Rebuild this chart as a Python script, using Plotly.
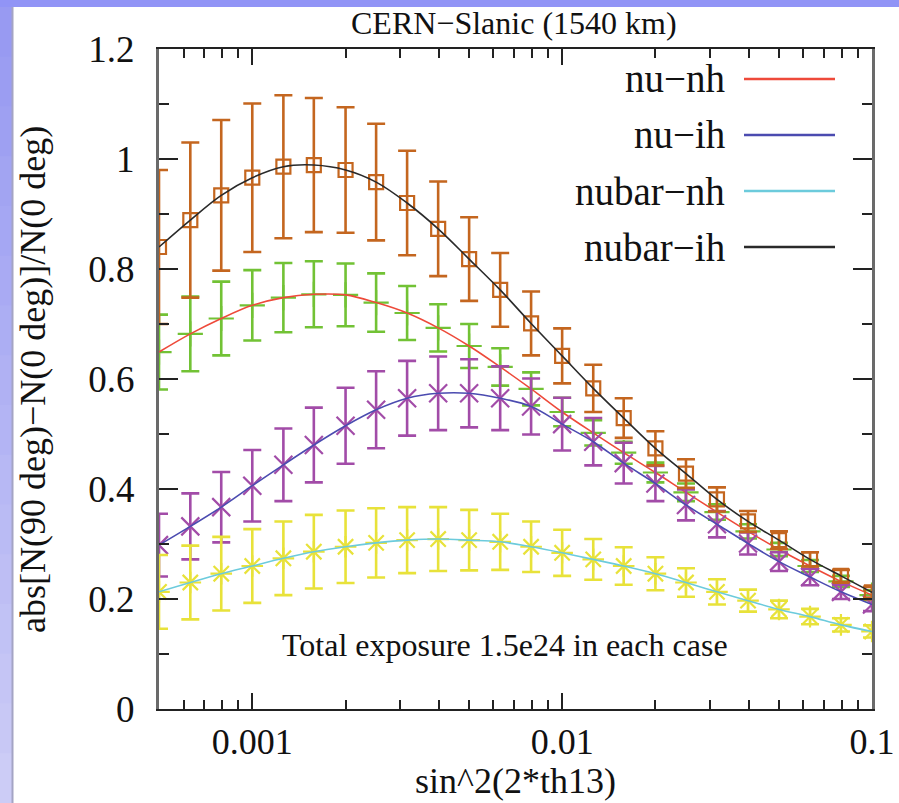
import plotly.graph_objects as go

# ---------------- data ----------------
sin2_2th13 = [0.0005, 0.000631, 0.000794, 0.001, 0.00126, 0.00158, 0.002, 0.00251,
              0.00316, 0.00398, 0.00501, 0.00631, 0.00794, 0.01, 0.0126, 0.0158,
              0.02, 0.0251, 0.0316, 0.0398, 0.0501, 0.0631, 0.0794, 0.1]

nu_nh = [0.649, 0.682, 0.710, 0.734, 0.748, 0.754, 0.753, 0.739, 0.720, 0.693, 0.660, 0.622,
         0.582, 0.540, 0.502, 0.466, 0.430, 0.394, 0.358, 0.323, 0.290, 0.260, 0.232, 0.207]
nu_nh_err = [0.068, 0.068, 0.067, 0.064, 0.063, 0.060, 0.057, 0.053, 0.049, 0.043, 0.040, 0.034,
             0.030, 0.026, 0.023, 0.020, 0.018, 0.016, 0.014, 0.013, 0.012, 0.011, 0.010, 0.009]

nu_ih = [0.298, 0.332, 0.367, 0.406, 0.444, 0.480, 0.515, 0.544, 0.565, 0.574, 0.574, 0.565,
         0.550, 0.518, 0.486, 0.447, 0.410, 0.371, 0.336, 0.301, 0.268, 0.240, 0.213, 0.190]
nu_ih_err = [0.057, 0.060, 0.064, 0.065, 0.066, 0.068, 0.069, 0.070, 0.068, 0.067, 0.062, 0.058,
             0.051, 0.048, 0.043, 0.037, 0.032, 0.028, 0.024, 0.020, 0.017, 0.015, 0.013, 0.012]

nubar_nh = [0.213, 0.230, 0.246, 0.260, 0.274, 0.286, 0.295, 0.302, 0.307, 0.309, 0.307, 0.304,
            0.295, 0.284, 0.272, 0.260, 0.246, 0.230, 0.213, 0.197, 0.181, 0.168, 0.153, 0.141]
nubar_nh_err = [0.067, 0.067, 0.067, 0.067, 0.067, 0.067, 0.066, 0.063, 0.060, 0.058, 0.055, 0.051,
                0.046, 0.042, 0.037, 0.034, 0.030, 0.026, 0.023, 0.020, 0.016, 0.014, 0.012, 0.011]

nubar_ih = [0.840, 0.889, 0.934, 0.966, 0.986, 0.989, 0.980, 0.958, 0.920, 0.873, 0.818, 0.762,
            0.701, 0.642, 0.583, 0.529, 0.474, 0.428, 0.381, 0.341, 0.307, 0.272, 0.242, 0.212]
nubar_ih_err = [0.140, 0.141, 0.137, 0.135, 0.130, 0.122, 0.114, 0.106, 0.095, 0.086, 0.076, 0.067,
                0.058, 0.050, 0.043, 0.036, 0.031, 0.026, 0.022, 0.019, 0.016, 0.013, 0.011, 0.010]

series_names = ["nu\u2212nh", "nu\u2212ih", "nubar\u2212nh", "nubar\u2212ih"]
x_tick_vals = [0.001, 0.01, 0.1]
x_tick_text = ["0.001", "0.01", "0.1"]
x_minor_vals = [0.0006, 0.0007, 0.0008, 0.0009,
                0.002, 0.003, 0.004, 0.005, 0.006, 0.007, 0.008, 0.009,
                0.02, 0.03, 0.04, 0.05, 0.06, 0.07, 0.08, 0.09]

# ---------------- styling ----------------
FONT = "Liberation Serif, Times New Roman, serif"
series = [
    (nu_nh, nu_nh_err, "#72c235", "#ee4a3a", "cross-thin-open", 18),
    (nu_ih, nu_ih_err, "#a24ca8", "#4b4bb0", "x-thin-open", 18),
    (nubar_nh, nubar_nh_err, "#e8e23a", "#6ccbdc", "asterisk-open", 18),
    (nubar_ih, nubar_ih_err, "#c4661f", "#2a2a2a", "square-open", 14),
]

fig = go.Figure()
for vals, errs, pcol, lcol, sym, msize in series:
    fig.add_trace(go.Scatter(
        x=sin2_2th13, y=vals, mode="markers",
        marker=dict(symbol=sym, size=msize, color=pcol, line=dict(width=2.2, color=pcol)),
        error_y=dict(type="data", array=errs, visible=True, color=pcol, thickness=2.6, width=9),
        showlegend=False, hoverinfo="skip"))
    fig.add_trace(go.Scatter(
        x=sin2_2th13, y=vals, mode="lines",
        line=dict(color=lcol, width=1.6, shape="spline", smoothing=1.0),
        showlegend=False, hoverinfo="skip"))

# plot area in pixels
L, R, T, B = 159, 872, 49, 709
W, H = 899, 803
PW, PH = R - L, B - T

def px(xp):
    return (xp - L) / PW

def py(yp):
    return (B - yp) / PH

shapes = []
# lavender frame strips
shapes.append(dict(type="rect", xref="paper", yref="paper", x0=px(-2), x1=px(W + 2), y0=py(7), y1=py(-2),
                   fillcolor="#9194f6", line=dict(width=0), layer="above"))
n = 16
for i in range(n):
    t = i / (n - 1)
    r = int(0x98 + (0xcc - 0x98) * t)
    g = int(0x9a + (0xcc - 0x9a) * t)
    b = int(0xf2 + (0xf6 - 0xf2) * t)
    y0p = 7 + (H - 7) * i / n
    y1p = 7 + (H - 7) * (i + 1) / n + 1
    shapes.append(dict(type="rect", xref="paper", yref="paper", x0=px(-2), x1=px(12),
                       y0=py(y1p), y1=py(y0p), fillcolor=f"rgb({r},{g},{b})",
                       line=dict(width=0), layer="above"))
shapes.append(dict(type="line", xref="paper", yref="paper", x0=px(12.5), x1=px(12.5), y0=py(H + 2), y1=py(7),
                   line=dict(color="#a4a4c4", width=2), layer="above"))

# legend (text right-aligned, sample line to the right)
legend_rows = [79, 135, 191, 247]
legend_cols = [s[3] for s in series]
annotations = []
for name, yrow, col in zip(series_names, legend_rows, legend_cols):
    annotations.append(dict(text=name, xref="paper", yref="paper", x=px(727), y=py(yrow),
                            xanchor="right", yanchor="middle", showarrow=False,
                            font=dict(family=FONT, size=39, color="#111")))
    shapes.append(dict(type="line", xref="paper", yref="paper", x0=px(744), x1=px(835),
                       y0=py(yrow), y1=py(yrow), line=dict(color=col, width=2.5)))

annotations.append(dict(text="CERN\u2212Slanic (1540 km)", xref="paper", yref="paper",
                        x=px(514), y=py(23), xanchor="center", yanchor="middle", showarrow=False,
                        font=dict(family=FONT, size=32, color="#111")))
annotations.append(dict(text="Total exposure 1.5e24 in each case", xref="paper", yref="paper",
                        x=px(505), y=py(645), xanchor="center", yanchor="middle", showarrow=False,
                        font=dict(family=FONT, size=32, color="#111")))
annotations.append(dict(text="sin^2(2*th13)", xref="paper", yref="paper",
                        x=px(515), y=py(781), xanchor="center", yanchor="middle", showarrow=False,
                        font=dict(family=FONT, size=36, color="#111")))
annotations.append(dict(text="abs[N(90 deg)\u2212N(0 deg)]/N(0 deg)", xref="paper", yref="paper",
                        x=px(33), y=py(380), xanchor="center", yanchor="middle", showarrow=False,
                        textangle=-90, font=dict(family=FONT, size=36, color="#111")))

fig.update_layout(
    width=W, height=H,
    margin=dict(l=L, r=W - R, t=T, b=H - B, autoexpand=False),
    paper_bgcolor="white", plot_bgcolor="white",
    shapes=shapes, annotations=annotations,
    showlegend=False,
    xaxis=dict(type="log", range=[-3.30103, -1], tickvals=x_tick_vals, ticktext=x_tick_text,
               ticks="inside", ticklen=16, tickwidth=2, tickcolor="#222", mirror="ticks",
               showline=True, linecolor="#222", linewidth=2, showgrid=False, zeroline=False,
               tickfont=dict(family=FONT, size=36, color="#111"), ticklabelstandoff=0,
               minor=dict(tickvals=x_minor_vals, ticks="inside", ticklen=9, tickwidth=2,
                          tickcolor="#222", showgrid=False)),
    yaxis=dict(range=[0, 1.2], dtick=0.2, tick0=0,
               ticks="inside", ticklen=19, tickwidth=2, tickcolor="#222", mirror="ticks",
               showline=True, linecolor="#6a6a6a", linewidth=3, showgrid=False, zeroline=False,
               tickfont=dict(family=FONT, size=37, color="#111"), ticklabelstandoff=14,
               minor=dict(dtick=0.1, ticks="inside", ticklen=10, tickwidth=2,
                          tickcolor="#222", showgrid=False)),
)

fig.write_html("out.html")
